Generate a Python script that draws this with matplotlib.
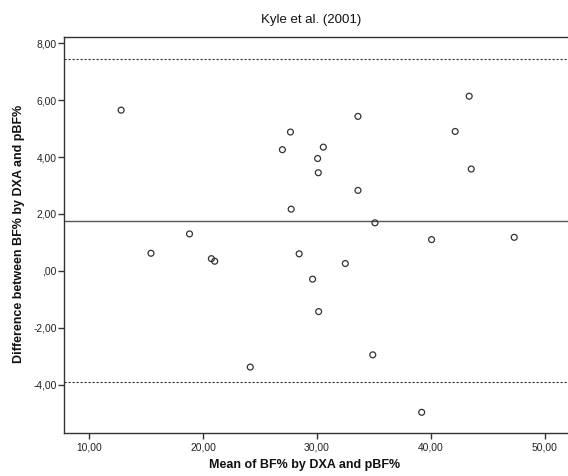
import matplotlib
matplotlib.use("Agg")
import matplotlib.pyplot as plt
from matplotlib.ticker import FixedLocator, FuncFormatter

plt.rcParams['font.family'] = ['Liberation Sans', 'DejaVu Sans']

# Data
mean_bf = [12.82, 27.68, 26.97, 27.74, 18.82, 15.44, 20.74, 21.03, 28.44, 29.62, 24.15,
           43.36, 33.60, 42.13, 30.56, 30.06, 30.12, 43.54, 33.60, 35.09, 40.06, 47.31,
           32.49, 30.15, 34.90, 39.19]
diff_bf = [5.65, 4.88, 4.26, 2.17, 1.30, 0.62, 0.43, 0.34, 0.60, -0.29, -3.38,
           6.14, 5.43, 4.90, 4.35, 3.95, 3.45, 3.58, 2.83, 1.69, 1.10, 1.18,
           0.26, -1.43, -2.95, -4.97]
mean_diff = 1.77
upper_loa = 7.46
lower_loa = -3.92
x_ticks = [10, 20, 30, 40, 50]
y_ticks = [-4, -2, 0, 2, 4, 6, 8]

title = "Kyle et al. (2001)"
x_label = "Mean of BF% by DXA and pBF%"
y_label = "Difference between BF% by DXA and pBF%"

W, H = 568, 476
fig = plt.figure(figsize=(W / 100, H / 100), dpi=100)
fig.patch.set_facecolor('white')
ax = fig.add_axes([63.8 / W, 1 - 432.8 / H, 1 - 63.8 / W, (432.8 - 37.3) / H])

ax.scatter(mean_bf, diff_bf, s=18, facecolors='none', edgecolors='#333333',
           linewidths=0.9, zorder=3)
ax.axhline(mean_diff, color='#555555', lw=1.0, zorder=2)
for v in (upper_loa, lower_loa):
    ax.axhline(v, color='#333333', lw=0.8, linestyle=(0, (2, 1.6)), zorder=2)

ax.set_xlim(7.79, 52.03)
ax.set_ylim(-5.69, 8.21)

def fmt(v, pos):
    s = f"{v:.2f}".replace('.', ',')
    if s.startswith('0,'):
        s = s[1:]
    return s

ax.xaxis.set_major_locator(FixedLocator(x_ticks))
ax.yaxis.set_major_locator(FixedLocator(y_ticks))
ax.xaxis.set_major_formatter(FuncFormatter(fmt))
ax.yaxis.set_major_formatter(FuncFormatter(fmt))
ax.tick_params(direction='out', length=4, width=1, color='#333333',
               labelsize=7.4, labelcolor='#222222')
ax.tick_params(axis='y', pad=1)
ax.tick_params(axis='x', pad=3)

for side in ('left', 'bottom', 'top'):
    ax.spines[side].set_color('#333333')
    ax.spines[side].set_linewidth(1.0)
ax.spines['right'].set_visible(False)

fig.text(311 / W, 1 - 20 / H, title, ha='center', va='center', fontsize=9.5, color='#111111')
fig.text(305 / W, 1 - 465 / H, x_label, ha='center', va='center', fontsize=9,
         fontweight='bold', color='#111111')
fig.text(19 / W, 1 - 234 / H, y_label, ha='center', va='center', rotation=90,
         fontsize=9, fontweight='bold', color='#111111')

fig.savefig('out.png', dpi=100, facecolor='white')
